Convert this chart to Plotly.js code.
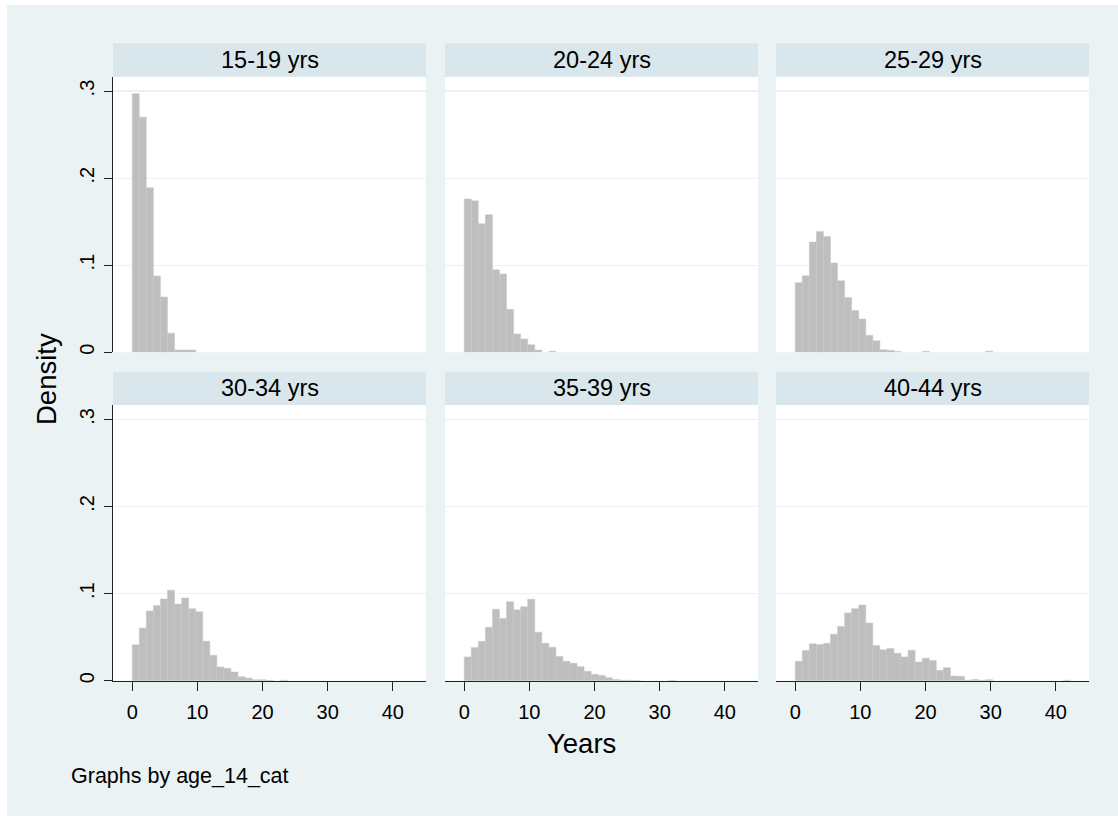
<!DOCTYPE html>
<html>
<head>
<meta charset="utf-8">
<script src="https://cdn.plot.ly/plotly-3.0.1.min.js"></script>
<style>
  html, body { margin: 0; padding: 0; background: #ffffff; width: 1118px; height: 816px; overflow: hidden; }
  #chart { position: absolute; left: 7px; top: 5px; width: 1111px; height: 811px; }
</style>
</head>
<body>
<div id="chart"></div>
<script>
// ---------------- DATA ----------------
const groupLabels = ['15-19 yrs', '20-24 yrs', '25-29 yrs', '30-34 yrs', '35-39 yrs', '40-44 yrs'];
const binStart = 0;
const binWidth = 1.083; // years per histogram bin

const density_15_19 = [0.297, 0.270, 0.189, 0.0876, 0.0635, 0.022, 0.0027, 0.0027, 0.0027];
const density_20_24 = [0.176, 0.174, 0.1476, 0.158, 0.0948, 0.090, 0.0493, 0.021, 0.0153, 0.0088, 0.0025, 0, 0.0012];
const density_25_29 = [0.080, 0.088, 0.1266, 0.1388, 0.133, 0.1025, 0.0822, 0.063, 0.048, 0.0383, 0.0195, 0.0134,
                       0.003, 0.0023, 0.001, 0, 0, 0, 0.0012, 0, 0, 0, 0, 0, 0, 0, 0, 0.0012];
const density_30_34 = [0.0412, 0.0604, 0.080, 0.0862, 0.0938, 0.1038, 0.088, 0.095, 0.0827, 0.0792, 0.0454, 0.0292,
                       0.0158, 0.0142, 0.010, 0.0046, 0.003, 0.0012, 0.0012, 0.0004, 0, 0.0006];
const density_35_39 = [0.0273, 0.038, 0.0453, 0.0615, 0.0819, 0.0715, 0.0907, 0.0815, 0.085, 0.0934, 0.0557, 0.043,
                       0.0384, 0.0277, 0.0223, 0.020, 0.0161, 0.0108, 0.0073, 0.0061, 0.0035, 0.0015, 0.0006, 0.0005,
                       0.0003, 0, 0, 0, 0, 0.0004];
const density_40_44 = [0.0223, 0.0346, 0.0423, 0.0415, 0.043, 0.0534, 0.0623, 0.0777, 0.0827, 0.0869, 0.0661, 0.0404,
                       0.0354, 0.0369, 0.0315, 0.0273, 0.035, 0.0215, 0.0257, 0.0231, 0.0119, 0.015, 0.0054, 0.005,
                       0.0006, 0.0015, 0.0004, 0.0012, 0, 0, 0, 0, 0, 0, 0, 0, 0, 0, 0.0006];
const seriesList = [density_15_19, density_20_24, density_25_29, density_30_34, density_35_39, density_40_44];

const xTickVals = [0, 10, 20, 30, 40];
const yTickVals = [0, 0.1, 0.2, 0.3];
const yTickText = ['0', '.1', '.2', '.3'];

// ---------------- LAYOUT GEOMETRY (pixels within the chart div) ----------------
const W = 1111, H = 811;
const colPx = [[106, 419], [438, 751], [769, 1082]];
const rowPx = [[71.7, 347.3], [400, 675.7]];      // plot areas (top, bottom)
const stripPx = [[38.3, 71.7], [366.7, 400]];     // strip bands
const FONT = 'Liberation Sans, Arial, Helvetica, sans-serif';
const bgColor = '#eaf2f3';
const stripColor = '#d9e6eb';
const gridColor = '#eaf2f3';
const barFill = '#bebebe';
const barLine = '#c6c6c6';

const fx = px => px / W;
const fy = px => 1 - px / H;

const traces = [];
const layout = {
  width: W, height: H,
  margin: {l: 0, r: 0, t: 0, b: 0, pad: 0},
  paper_bgcolor: bgColor,
  plot_bgcolor: '#ffffff',
  showlegend: false,
  bargap: 0,
  font: {family: FONT, color: '#000000'},
  shapes: [],
  annotations: []
};

seriesList.forEach((vals, k) => {
  const row = Math.floor(k / 3), col = k % 3;
  const idx = k + 1;
  const xa = 'x' + (idx === 1 ? '' : idx), ya = 'y' + (idx === 1 ? '' : idx);
  const xs = vals.map((v, i) => binStart + (i + 0.5) * binWidth);
  traces.push({
    type: 'bar', x: xs, y: vals, width: vals.map(() => binWidth),
    xaxis: xa, yaxis: ya,
    marker: {color: barFill, line: {color: barLine, width: vals.map(v => v > 0 ? 0.5 : 0)}},
    hoverinfo: 'x+y'
  });
  const bottomRow = row === 1, leftCol = col === 0;
  layout['xaxis' + (idx === 1 ? '' : idx)] = {
    domain: [fx(colPx[col][0]), fx(colPx[col][1])],
    anchor: ya,
    range: [-2.95, 45.1],
    tickvals: xTickVals,
    showgrid: false, zeroline: false,
    showline: bottomRow, linecolor: '#222222', linewidth: 1,
    ticks: bottomRow ? 'outside' : '', ticklen: 9, tickcolor: '#222222', tickwidth: 1,
    showticklabels: bottomRow,
    ticklabelstandoff: 4,
    tickfont: {family: FONT, size: 20, color: '#000000'},
    fixedrange: true
  };
  layout['yaxis' + (idx === 1 ? '' : idx)] = {
    domain: [fy(rowPx[row][1]), fy(rowPx[row][0])],
    anchor: xa,
    range: [0, 0.3165],
    tickvals: yTickVals, ticktext: yTickText,
    showgrid: true, gridcolor: gridColor, gridwidth: 1.3,
    zeroline: false,
    showline: leftCol, linecolor: '#222222', linewidth: 1,
    ticks: leftCol ? 'outside' : '', ticklen: 8, tickcolor: '#222222', tickwidth: 1,
    showticklabels: leftCol,
    tickangle: -90,
    ticklabelstandoff: 2,
    tickfont: {family: FONT, size: 20, color: '#000000'},
    fixedrange: true
  };
  // strip
  layout.shapes.push({
    type: 'rect', xref: 'paper', yref: 'paper', layer: 'below',
    x0: fx(colPx[col][0]), x1: fx(colPx[col][1]),
    y0: fy(stripPx[row][1]), y1: fy(stripPx[row][0]),
    fillcolor: stripColor, line: {width: 0}
  });
  layout.annotations.push({
    xref: 'paper', yref: 'paper',
    x: fx((colPx[col][0] + colPx[col][1]) / 2),
    y: fy((stripPx[row][0] + stripPx[row][1]) / 2),
    xanchor: 'center', yanchor: 'middle',
    text: groupLabels[k], showarrow: false,
    font: {family: FONT, size: 23.5, color: '#000000'}
  });
});

// axis titles and note
layout.annotations.push({
  xref: 'paper', yref: 'paper', x: fx(39), y: fy(374),
  xanchor: 'center', yanchor: 'middle', textangle: -90,
  text: 'Density', showarrow: false,
  font: {family: FONT, size: 27.5, color: '#000000'}
});
layout.annotations.push({
  xref: 'paper', yref: 'paper', x: fx(574), y: fy(738),
  xanchor: 'center', yanchor: 'middle',
  text: 'Years', showarrow: false,
  font: {family: FONT, size: 27.5, color: '#000000'}
});
layout.annotations.push({
  xref: 'paper', yref: 'paper', x: fx(62), y: fy(771),
  xanchor: 'left', yanchor: 'middle',
  text: 'Graphs by age_14_cat', showarrow: false,
  font: {family: FONT, size: 21.5, color: '#000000'}
});

Plotly.newPlot('chart', traces, layout, {displayModeBar: false, staticPlot: true});
</script>
</body>
</html>
